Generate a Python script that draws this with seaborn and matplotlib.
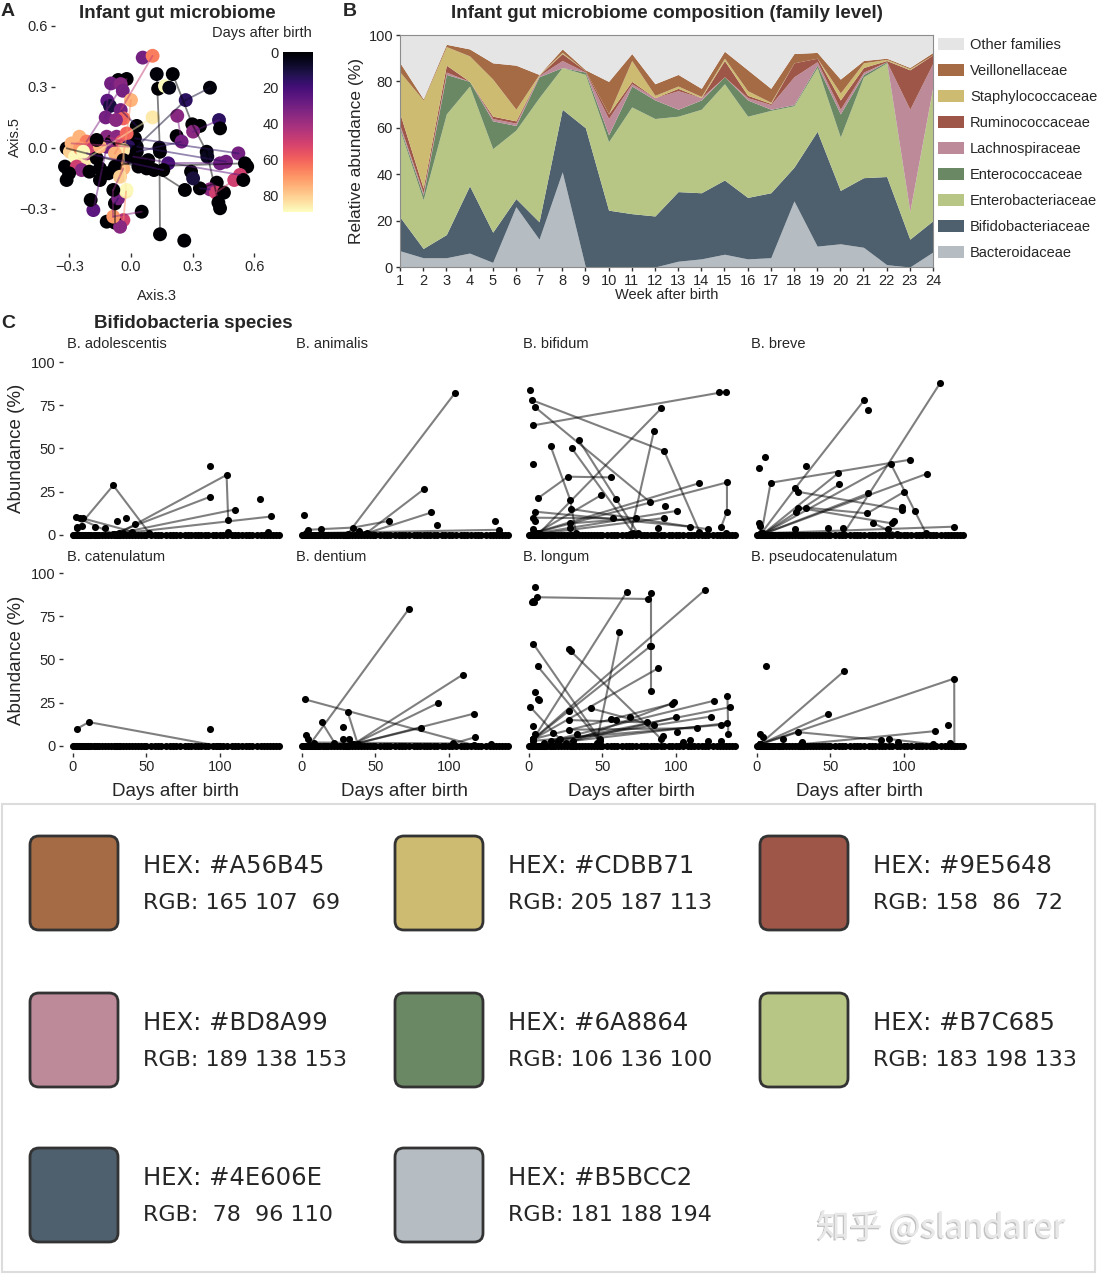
import numpy as np
import pandas as pd
import matplotlib
matplotlib.use('Agg')
import matplotlib.pyplot as plt
import matplotlib.patheffects as pe
from matplotlib.patches import FancyBboxPatch, Rectangle, Patch
from matplotlib.colors import Normalize
from matplotlib.cm import ScalarMappable
import seaborn as sns

# ---------------- DATA ----------------
# Panel A: PCoA coordinates, sample age (days) and infant trajectories
pcoa_x = [0.057, 0.105, 0.125, 0.132, 0.203, 0.165, 0.186, -0.062, -0.021, -0.097,
          -0.05, -0.04, 0.0, 0.384, 0.266, 0.225, -0.115, -0.102, -0.123, -0.05,
          -0.037, -0.073, 0.105, 0.028, 0.298, 0.335, 0.428, 0.433, 0.302, 0.222,
          0.246, 0.138, 0.368, 0.371, 0.522, 0.554, 0.565, 0.53, 0.502, 0.546,
          0.433, 0.462, 0.417, 0.384, 0.413, 0.452, 0.425, 0.433, 0.335, 0.262,
          0.292, 0.302, 0.181, 0.157, 0.112, 0.076, 0.036, 0.011, 0.028, 0.019,
          0.141, 0.141, 0.259, 0.052, -0.037, -0.078, -0.118, -0.053, -0.086, -0.078,
          -0.062, -0.024, -0.183, -0.196, -0.313, -0.321, -0.313, -0.297, -0.272, -0.24,
          -0.224, -0.289, -0.251, -0.216, -0.264, -0.24, -0.202, -0.215, -0.183, -0.167,
          -0.151, -0.151, -0.11, -0.118, -0.094, -0.118, -0.07, -0.045, -0.021, -0.013,
          -0.037, -0.078, -0.037, -0.037, -0.078, -0.053, -0.021, -0.086, -0.151, -0.167,
          0.06, 0.084, -0.248, 0.028, -0.232, -0.301]
pcoa_y = [0.443, 0.452, 0.362, 0.29, 0.362, 0.303, 0.295, 0.333, 0.338, 0.316,
          0.313, 0.28, 0.234, 0.295, 0.234, 0.157, 0.231, 0.205, 0.149, 0.185,
          0.144, 0.136, 0.149, 0.107, 0.115, 0.107, 0.136, 0.095, 0.079, 0.057,
          0.03, 0.0, -0.02, -0.044, -0.028, -0.077, -0.093, -0.134, -0.159, -0.159,
          -0.077, -0.069, -0.172, -0.205, -0.221, -0.221, -0.27, -0.298, -0.2, -0.208,
          -0.118, -0.151, -0.077, -0.11, -0.11, -0.102, -0.093, -0.044, 0.005, 0.046,
          -0.02, -0.426, -0.457, -0.315, -0.356, -0.369, -0.364, -0.389, -0.339, -0.274,
          -0.249, -0.216, -0.307, -0.257, -0.159, -0.093, -0.003, -0.02, -0.044, -0.069,
          -0.061, 0.021, 0.054, 0.03, -0.093, -0.11, -0.118, -0.028, -0.003, -0.052,
          -0.102, -0.159, -0.126, 0.054, 0.03, 0.005, 0.054, 0.03, 0.07, 0.005,
          -0.011, -0.028, -0.061, -0.102, -0.093, -0.143, -0.208, -0.208, 0.005, 0.038,
          -0.077, -0.061, -0.003, -0.02, -0.02, -0.126]
pcoa_days = [30, 65, 2, 0, 0, 88, 3, 0, 0, 30,
             35, 30, 75, 2, 15, 35, 25, 10, 30, 30,
             60, 35, 85, 0, 0, 0, 15, 0, 35, 0,
             30, 0, 0, 5, 30, 0, 0, 50, 50, 0,
             30, 30, 0, 35, 50, 0, 0, 0, 0, 0,
             0, 10, 20, 0, 0, 0, 0, 0, 0, 0,
             0, 0, 0, 0, 50, 0, 0, 35, 70, 0,
             30, 85, 25, 0, 0, 0, 0, 80, 88, 88,
             85, 75, 75, 65, 50, 35, 0, 40, 50, 0,
             0, 0, 0, 35, 0, 30, 35, 55, 60, 15,
             85, 75, 0, 75, 0, 80, 88, 0, 75, 0,
             0, 0, 70, 0, 88, 0]
pcoa_tracks = [[2, 60, 31, 61], [4, 24, 32, 46], [13, 14, 58], [8, 83], [23, 19, 1],
               [59, 34], [57, 37], [56, 35], [58, 41], [113, 30, 15], [110, 49],
               [103, 107, 68, 63], [100, 71, 64], [95, 72], [81, 99], [76, 56],
               [87, 53], [22, 79], [12, 98, 105], [52, 40], [38, 44], [93, 97, 101],
               [109, 58], [90, 111], [9, 16, 18], [65, 69, 70], [42, 48, 43], [26, 28]]

# Panel B: family-level relative abundance (%) per week
weeks = list(range(1, 25))
bacteroidaceae = [7, 4, 4, 6, 2, 26, 12, 41, 0, 0, 0, 0, 2.5, 3.5, 5.5, 3.5, 4, 28.5, 9, 10, 8.5, 1, 0, 6.5]
bifidobacteriaceae = [14.5, 4, 10, 29, 13, 3.5, 7.5, 27, 60, 24.5, 23, 22, 30, 28.5, 32, 26.5, 28, 14.5, 49.5, 23, 30, 38, 12, 13.5]
enterobacteriaceae = [37.5, 21, 52, 43, 36, 29.5, 53.5, 18, 23, 29.5, 46, 42, 32.5, 36, 41.5, 35, 35.5, 26.5, 27.5, 23, 43.5, 49, 12, 58]
enterococcaceae = [1, 2, 17, 2, 12, 2, 9, 0, 1, 3, 9, 8, 3, 4, 3, 7, 0.5, 0.5, 1, 10, 1, 0.5, 0, 0]
lachnospiraceae = [1, 1, 1, 0, 1, 1, 0.5, 3, 0, 7, 1, 1, 8, 1, 0, 1, 2, 12, 1.5, 2, 1, 0, 44, 10]
ruminococcaceae = [5, 2, 3, 0, 1, 1, 0.2, 3, 0.5, 2, 1, 0, 1, 0, 7, 1, 0.5, 6, 1.5, 4, 2, 0.5, 17, 3.5]
staphylococcaceae = [18, 38, 8, 11, 16, 5, 0.3, 0.5, 0, 0, 9, 1, 1, 0.5, 1, 2, 0.5, 0, 0, 3, 2, 0.5, 0.5, 0]
veillonellaceae = [4, 0.5, 1, 3, 7, 19, 0, 1.5, 0.5, 14, 3, 5, 5, 3.5, 3, 9, 6, 4, 2.5, 6, 1, 0.5, 0.5, 1]
family_names = ['Bacteroidaceae', 'Bifidobacteriaceae', 'Enterobacteriaceae', 'Enterococcaceae',
                'Lachnospiraceae', 'Ruminococcaceae', 'Staphylococcaceae', 'Veillonellaceae',
                'Other families']
family_colors = ['#B5BCC2', '#4E606E', '#B7C685', '#6A8864', '#BD8A99', '#9E5648',
                 '#CDBB71', '#A56B45', '#E5E5E5']

# Panel C: species abundance trajectories (day, abundance %)
species = ['B. adolescentis', 'B. animalis', 'B. bifidum', 'B. breve',
           'B. catenulatum', 'B. dentium', 'B. longum', 'B. pseudocatenulatum']
adolescentis = [[(3, 4), (27.4, 28.7), (52, 1)], [(2, 10.3), (28, 0.5)], [(27, 0.5), (93, 22)],
                [(30, 0.5), (104.5, 34.7), (105.6, 8.7)], [(31, 1), (110, 14.7)],
                [(34, 1), (135, 10.7)], [(5, 10), (40, 2)],
                [(6.6, 10)], [(6, 5.4)], [(15, 4.5)], [(30, 8)], [(36, 9.9)], [(42, 6.2)],
                [(93, 40)], [(127, 21)], [(105.6, 2)], [(133, 2)], [(3, 4.5)], [(22, 4)]]
animalis = [[(31, 0.5), (104, 82)], [(4, 3), (35, 4.3), (59, 8.1)], [(43, 0.5), (83, 26.5)],
            [(44, 1), (88, 13)], [(3, 1), (134, 3)],
            [(1.6, 11.8)], [(12.7, 3.5)], [(39, 2.5)], [(91.6, 5.8)], [(131, 8.3)]]
bifidum = [[(3, 63.4), (134, 82.9)], [(129.5, 82.9)], [(1, 83.8)],
           [(2, 78), (92, 48.5), (116, 2)], [(4, 74), (82, 19.3)], [(29, 50.3), (71, 1)],
           [(14.7, 51.4), (28, 20.4), (32, 1)], [(6, 21.2), (26.5, 33.7), (56, 33.3)],
           [(7, 1), (90, 73.2)], [(69, 0.5), (85, 60)],
           [(3, 1), (134.7, 30.4), (134.7, 13.5), (130.6, 4.4)], [(3, 1), (116, 30)],
           [(5, 1), (49, 23)], [(4, 13.5), (109.5, 4.8)], [(3, 10), (57, 9.6)],
           [(5, 1), (101, 14)], [(34, 54.7), (74, 1)], [(5, 0.5), (92, 9.8)],
           [(28, 6.7), (73, 9.6)], [(28.6, 15), (122, 3.3)],
           [(3, 41)], [(59, 21)], [(92.5, 16.8)], [(4, 8.3)], [(88, 4)], [(28, 3.8)],
           [(3, 3.7)], [(134, 1)]]
breve = [[(3, 1), (9.3, 30.2), (104, 43.5)], [(3, 1), (26, 27), (72.8, 77.8)],
         [(58.7, 0.5), (124.5, 87.7)], [(4, 0.5), (55, 35.6)], [(4, 0.5), (91, 41.2), (115, 1)],
         [(4, 0.5), (116, 35.5)], [(27.7, 25), (99, 14.5)], [(4, 0.5), (56, 29.3)],
         [(4, 0.5), (75.5, 24)], [(33.5, 15.8), (75, 12.5), (100, 24.9)], [(4, 1), (134, 4.8)],
         [(27.7, 15.8), (92, 6.7)], [(78.7, 7), (95, 0.5)],
         [(5.4, 45.3)], [(1.4, 38.9)], [(33.5, 39.9)], [(75.5, 72)], [(26.5, 13)],
         [(99, 16.4)], [(107.7, 14)], [(93, 8.3)], [(48, 4.2)], [(58.7, 3.8)], [(89, 3.3)],
         [(26, 3.3)], [(1.6, 7.1)], [(2, 5)]]
catenulatum = [[(3, 10.1), (10.8, 13.8), (99, 0)], [(93, 9.6)]]
dentium = [[(5, 0.5), (72.7, 79.2)], [(1.8, 27), (117, 0.5)], [(13.3, 14), (22, 2)],
           [(31, 19.9), (38, 1)], [(35, 1), (109.5, 41.3)], [(35, 1), (92.8, 24.9)],
           [(35, 1), (117, 18.7)], [(35, 1), (81, 10.5)], [(8, 2), (103, 1.5), (117.6, 5)],
           [(28, 11.1)], [(3, 6.5)], [(28, 3.8)], [(32, 3.8)], [(128.6, 1.3)], [(4, 4)]]
longum = [[(5.2, 86), (81, 85)], [(83, 88.5), (83, 57.6), (83, 31.5)], [(3, 59), (48, 4)],
          [(3, 4), (66.4, 88.9)], [(3, 4), (120, 90.4)], [(46, 2), (61.5, 65.8)],
          [(28.3, 54.9), (90, 4)], [(6, 46), (48, 3)], [(3, 4), (82.5, 57.6)],
          [(3, 4), (88, 45)], [(0.7, 22.7), (21, 4)], [(3, 4), (97, 24.3)],
          [(20, 3), (136.7, 22.4)], [(15, 3), (126, 26.2)], [(3, 3), (130.6, 12.2)],
          [(135, 29), (135.6, 7)], [(30, 3), (99, 25.2)], [(42, 21.8), (85, 11.9)],
          [(27.4, 15), (80, 13.6)], [(10, 2), (123.6, 17)], [(20, 2), (134.7, 13.2)],
          [(25, 2), (99.8, 16.6)], [(27.4, 9.4), (114.5, 10.3)],
          [(3.9, 91.8)], [(2, 83)], [(3, 84)], [(3.6, 83.5)], [(27.4, 56.2)], [(4, 31.2)],
          [(6, 27)], [(7, 26.5)], [(55.8, 15.7)], [(59.4, 14.9)], [(68.5, 17)], [(100.5, 8.2)],
          [(3, 11.5)], [(4, 6.7)], [(16.5, 7.6)], [(32.4, 7)], [(91, 5.7)], [(109.5, 3.4)],
          [(104.5, 2.5)], [(122, 2.9)], [(130.6, 2.7)], [(27.4, 20)]]
pseudocatenulatum = [[(2, 1), (59.2, 43.2)], [(2, 1), (48.3, 18.4)],
                     [(2, 1), (134.2, 39), (134.3, 0)], [(2, 1), (27.9, 8), (84.6, 3.4)],
                     [(30, 1), (121.3, 8.6)], [(90, 4), (120, 1)],
                     [(6.3, 46.3)], [(129.7, 12.2)], [(2.3, 6.7)], [(18, 3.8)], [(96, 2.5)],
                     [(30.6, 2.5)], [(131.5, 1.5)], [(4, 5)]]
zero_days = [0, 1, 2, 3, 4, 5, 6, 7, 8, 9, 10, 11, 12, 14, 15, 16, 18, 20, 22, 24, 26, 28,
             29, 30, 31, 32, 34, 36, 38, 40, 42, 44, 46, 48, 50, 53, 56, 58, 60, 63, 66, 68,
             70, 73, 76, 78, 80, 83, 85, 87, 90, 92, 95, 97, 100, 102, 105, 108, 110, 112,
             115, 118, 120, 122, 125, 128, 130, 132, 134, 136, 138, 140]

# Swatches
swatch_hex = ['#A56B45', '#CDBB71', '#9E5648', '#BD8A99', '#6A8864', '#B7C685', '#4E606E', '#B5BCC2']

# ---------------- FIGURE ----------------
sns.set_theme(style='ticks')
plt.rcParams['font.family'] = ['Liberation Sans', 'DejaVu Sans']
plt.rcParams['axes.unicode_minus'] = True

W, H = 1097, 1275
fig = plt.figure(figsize=(W / 100, H / 100), dpi=100)
fig.patch.set_facecolor('white')

# overlay (pixel coordinates) for free text / swatches
ov = fig.add_axes([0, 0, 1, 1], zorder=0)
ov.set_xlim(0, W)
ov.set_ylim(H, 0)
ov.axis('off')
ov.patch.set_alpha(0)


def pax(l, t, r, b, **kw):
    a = fig.add_axes([l / W, 1 - b / H, (r - l) / W, (b - t) / H], **kw)
    a.patch.set_alpha(0)
    return a


def txt(x, y, s, **kw):
    kw.setdefault('va', 'center')
    kw.setdefault('ha', 'center')
    ov.text(x, y, s, **kw)


# ---------- Panel A ----------
axA = pax(55, 20, 262, 253, zorder=2)
norm = Normalize(0, 89)
cmap = plt.get_cmap('magma')
dfA = pd.DataFrame({'x': pcoa_x, 'y': pcoa_y, 'days': pcoa_days})
sns.scatterplot(data=dfA, x='x', y='y', hue='days', palette='magma', hue_norm=(0, 89),
                s=100, linewidth=0, legend=False, ax=axA, zorder=2)
for tr in pcoa_tracks:
    for i0, i1 in zip(tr[:-1], tr[1:]):
        c = cmap(norm((pcoa_days[i0] + pcoa_days[i1]) / 2))
        axA.plot([pcoa_x[i0], pcoa_x[i1]], [pcoa_y[i0], pcoa_y[i1]], color=c,
                 alpha=0.5, lw=1.3, zorder=3)
axA.set_xlim(-0.3695, 0.637)
axA.set_ylim(-0.518, 0.628)
axA.set_xticks([-0.3, 0, 0.3, 0.6])
axA.set_xticklabels(['\u22120.3', '0.0', '0.3', '0.6'])
axA.set_yticks([-0.3, 0, 0.3, 0.6])
axA.set_yticklabels(['\u22120.3', '0.0', '0.3', '0.6'])
for s in axA.spines.values():
    s.set_visible(False)
axA.tick_params(length=3, width=1, labelsize=10.5, pad=2, color='#333333')
axA.set_xlabel('')
axA.set_ylabel('')
txt(157, 296, 'Axis.3', fontsize=10.5)
txt(15, 137, 'Axis.5', fontsize=10.5, rotation=90)
txt(177, 13, 'Infant gut microbiome', fontsize=13.5, fontweight='bold')
txt(262, 33, 'Days after birth', fontsize=10.5)
txt(8, 12, 'A', fontsize=14, fontweight='bold')

cax = pax(283, 52, 313, 212, zorder=2)
sm = ScalarMappable(norm=norm, cmap=cmap)
cb = fig.colorbar(sm, cax=cax)
cb.outline.set_visible(False)
cax.invert_yaxis()
cb.set_ticks([0, 20, 40, 60, 80])
cax.yaxis.set_ticks_position('both')
cax.tick_params(direction='in', color='white', length=4, width=1.2,
                labelleft=True, labelright=False, left=True, right=True,
                labelsize=10.5, pad=3)

# ---------- Panel B ----------
axB = pax(400, 35, 933, 267, zorder=2)
fam_vals = [bacteroidaceae, bifidobacteriaceae, enterobacteriaceae, enterococcaceae,
            lachnospiraceae, ruminococcaceae, staphylococcaceae, veillonellaceae]
others = [100 - sum(v[i] for v in fam_vals) for i in range(len(weeks))]
axB.stackplot(weeks, *fam_vals, others, colors=family_colors, linewidth=0)
axB.set_xlim(1, 24)
axB.set_ylim(0, 100)
axB.set_xticks(weeks)
axB.set_yticks([0, 20, 40, 60, 80, 100])
for s in axB.spines.values():
    s.set_color('#8c8c8c')
    s.set_linewidth(0.8)
axB.tick_params(length=3, width=1, labelsize=10.5, pad=2, color='#333333')
txt(357, 151, 'Relative abundance (%)', fontsize=12.5, rotation=90)
txt(667, 295, 'Week after birth', fontsize=10.5)
txt(667, 14, 'Infant gut microbiome composition (family level)', fontsize=13.5, fontweight='bold')
txt(350, 12, 'B', fontsize=14, fontweight='bold')
handles = [Patch(facecolor=c, edgecolor='none', label=n)
           for n, c in zip(family_names[::-1], family_colors[::-1])]
axB.legend(handles=handles, loc='upper left', bbox_to_anchor=(0.998, 1.012), frameon=False,
           fontsize=10.5, handlelength=1.8, handleheight=0.9, handletextpad=0.4,
           labelspacing=0.82, borderaxespad=0.3, borderpad=0.1)

# ---------- Panel C ----------
txt(8, 323, 'C', fontsize=14, fontweight='bold')
txt(193, 323, 'Bifidobacteria species', fontsize=13.5, fontweight='bold')
sp_data = [adolescentis, animalis, bifidum, breve, catenulatum, dentium, longum, pseudocatenulatum]
lefts = [62.7, 291.7, 518.7, 746.7]
fw = 223.4
rows_tb = [(355.1, 541.9), (566.1, 752.9)]
for k, (name, tracks) in enumerate(zip(species, sp_data)):
    r, c = divmod(k, 4)
    t, b = rows_tb[r]
    ax = pax(lefts[c], t, lefts[c] + fw, b, zorder=2)
    recs = []
    for j, tr in enumerate(tracks):
        for d, v in tr:
            recs.append((j, len(tr), d, v))
    for j, d in enumerate(zero_days):
        recs.append((len(tracks) + j, 1, d, 0.0))
    df = pd.DataFrame(recs, columns=['track', 'n', 'day', 'abund'])
    lines = df[df['n'] > 1]
    sns.lineplot(data=lines, x='day', y='abund', units='track', estimator=None, sort=False,
                 color='black', alpha=0.5, lw=1.5, ax=ax, legend=False, zorder=2)
    sns.scatterplot(data=df, x='day', y='abund', color='black', s=26, linewidth=0,
                    ax=ax, legend=False, zorder=3)
    ax.set_xlim(-7, 145)
    ax.set_ylim(-4, 104)
    for s in ax.spines.values():
        s.set_visible(False)
    ax.set_xlabel('')
    ax.set_ylabel('')
    ax.tick_params(length=3, width=1, labelsize=10.5, pad=2, color='#333333')
    if c == 0:
        ax.set_yticks([0, 25, 50, 75, 100])
    else:
        ax.set_yticks([])
    if r == 1:
        ax.set_xticks([0, 50, 100])
        txt(lefts[c] + fw / 2 + 1, 792, 'Days after birth', fontsize=13.5)
    else:
        ax.set_xticks([])
    txt(lefts[c] + 4.5, 344 if r == 0 else 557, name, fontsize=10.5, ha='left')
txt(17, 448, 'Abundance (%)', fontsize=13.5, rotation=90)
txt(17, 660, 'Abundance (%)', fontsize=13.5, rotation=90)

# ---------- Swatch section ----------
ov.add_patch(Rectangle((2, 804), W - 4, 468, facecolor='white', edgecolor='#dcdcdc', lw=1.5, zorder=0))
col_x = [30, 395, 760]
row_y = [836, 993, 1148]
sw_w, sw_h, rad = 88, 94, 9
for i, hx in enumerate(swatch_hex):
    r, c = divmod(i, 3)
    x0, y0 = col_x[c], row_y[r]
    ov.add_patch(FancyBboxPatch((x0 + rad, y0 + rad), sw_w - 2 * rad, sw_h - 2 * rad,
                                boxstyle=f'round,pad={rad}', facecolor=hx,
                                edgecolor='#333333', lw=2, zorder=1))
    rr, gg, bb = int(hx[1:3], 16), int(hx[3:5], 16), int(hx[5:7], 16)
    txt(x0 + 113, y0 + 30, f'HEX: {hx}', fontsize=17.5, ha='left', family='DejaVu Sans')
    txt(x0 + 113, y0 + 67, f'RGB: {rr:3d} {gg:3d} {bb:3d}', fontsize=16, ha='left',
        family='DejaVu Sans')

ov.text(817, 1228, '知乎 @slandarer', fontsize=23.5, ha='left', va='center', color='#e8e8e8',
        family=['Noto Sans CJK SC', 'DejaVu Sans'],
        path_effects=[pe.withSimplePatchShadow(offset=(-1, -1), shadow_rgbFace='#a8a8a8', alpha=0.7),
                      pe.Normal()])

fig.savefig('out.png', dpi=100)
